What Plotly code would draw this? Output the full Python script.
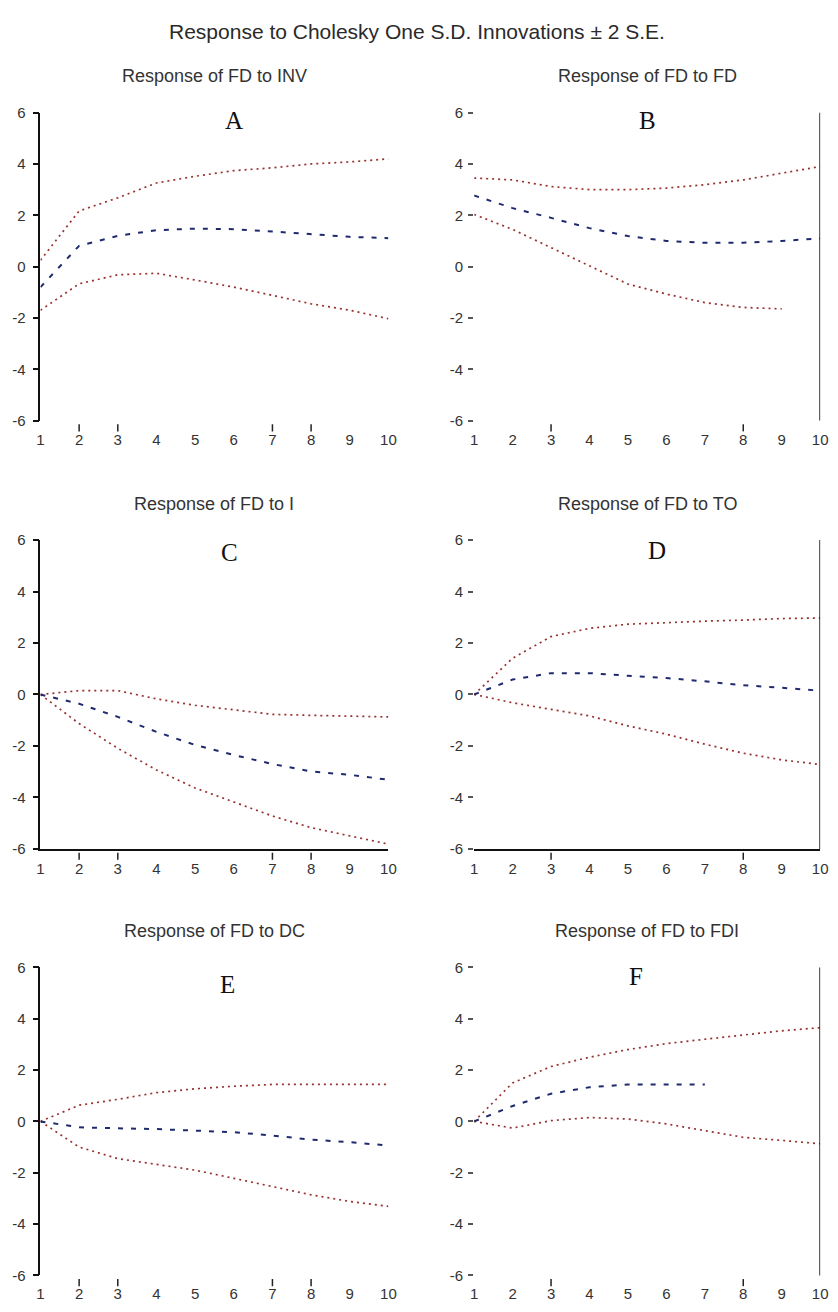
import plotly.graph_objects as go

# Forecast horizon (periods)
periods = list(range(1, 11))

# Panel A: Response of FD to INV
inv_resp = [-0.80, 0.81, 1.20, 1.42, 1.48, 1.46, 1.37, 1.26, 1.16, 1.11]
inv_upper = [0.25, 2.17, 2.68, 3.26, 3.52, 3.74, 3.85, 4.00, 4.08, 4.20]
inv_lower = [-1.70, -0.67, -0.32, -0.26, -0.52, -0.80, -1.12, -1.45, -1.70, -2.03]

# Panel B: Response of FD to FD
fd_resp = [2.77, 2.28, 1.90, 1.50, 1.19, 1.00, 0.93, 0.93, 1.00, 1.10]
fd_upper = [3.45, 3.38, 3.12, 3.00, 3.00, 3.06, 3.19, 3.38, 3.64, 3.90]
fd_lower = [2.03, 1.45, 0.74, 0.03, -0.68, -1.07, -1.40, -1.59, -1.65, None]

# Panel C: Response of FD to I
i_resp = [0.00, -0.36, -0.87, -1.45, -1.96, -2.35, -2.70, -2.99, -3.12, -3.31]
i_upper = [0.00, 0.15, 0.15, -0.17, -0.42, -0.59, -0.77, -0.81, -0.85, -0.87]
i_lower = [0.00, -1.13, -2.09, -2.93, -3.63, -4.18, -4.72, -5.17, -5.49, -5.81]

# Panel D: Response of FD to TO
to_resp = [0.00, 0.58, 0.83, 0.83, 0.73, 0.64, 0.51, 0.36, 0.26, 0.15]
to_upper = [0.00, 1.41, 2.25, 2.57, 2.73, 2.80, 2.85, 2.89, 2.95, 2.97]
to_lower = [0.00, -0.32, -0.58, -0.83, -1.22, -1.54, -1.93, -2.28, -2.54, -2.72]

# Panel E: Response of FD to DC
dc_resp = [0.00, -0.23, -0.27, -0.30, -0.36, -0.42, -0.55, -0.71, -0.81, -0.94]
dc_upper = [0.00, 0.63, 0.86, 1.12, 1.27, 1.37, 1.44, 1.44, 1.44, 1.44]
dc_lower = [0.00, -1.00, -1.45, -1.67, -1.90, -2.22, -2.54, -2.86, -3.12, -3.31]

# Panel F: Response of FD to FDI
fdi_resp = [0.00, 0.60, 1.08, 1.33, 1.44, 1.44, 1.44, None, None, None]
fdi_upper = [0.00, 1.50, 2.14, 2.50, 2.80, 3.03, 3.20, 3.36, 3.53, 3.65]
fdi_lower = [0.00, -0.26, 0.03, 0.15, 0.09, -0.10, -0.36, -0.62, -0.74, -0.87]

y_ticks = [6, 4, 2, 0, -2, -4, -6]

main_title = "Response to Cholesky One S.D. Innovations \u00b1 2 S.E."

panels = [
    dict(title="Response of FD to INV", letter="A", resp=inv_resp, up=inv_upper, lo=inv_lower,
         side="left", bottom=False, marks=[2, 3, 7, 8], lpos=(6.0, 5.7)),
    dict(title="Response of FD to FD", letter="B", resp=fd_resp, up=fd_upper, lo=fd_lower,
         side="right", bottom=False, marks=[3, 8], lpos=(5.5, 5.7)),
    dict(title="Response of FD to I", letter="C", resp=i_resp, up=i_upper, lo=i_lower,
         side="left", bottom=True, marks=[2, 3, 7, 8], lpos=(5.9, 5.5)),
    dict(title="Response of FD to TO", letter="D", resp=to_resp, up=to_upper, lo=to_lower,
         side="right", bottom=True, marks=[3, 8], lpos=(5.75, 5.6)),
    dict(title="Response of FD to DC", letter="E", resp=dc_resp, up=dc_upper, lo=dc_lower,
         side="left", bottom=False, marks=[2, 3, 7, 8], lpos=(5.85, 5.35)),
    dict(title="Response of FD to FDI", letter="F", resp=fdi_resp, up=fdi_upper, lo=fdi_lower,
         side="right", bottom=False, marks=[3, 8], lpos=(5.2, 5.65)),
]

W, H = 838, 1312
col_px = {"left": (37, 390), "right": (477, 828)}
row_px = [(105, 417), (538, 851), (971, 1283)]

RED = "#97302f"
BLUE = "#1f2a6e"
SANS = "Liberation Sans, Arial, sans-serif"
SERIF = "Liberation Serif, Times New Roman, serif"

fig = go.Figure()
layout = dict(
    width=W, height=H,
    margin=dict(l=0, r=0, t=0, b=0),
    paper_bgcolor="white", plot_bgcolor="white",
    showlegend=False,
    font=dict(family=SANS, color="#333333"),
)
annotations = [
    dict(text=main_title, xref="paper", yref="paper", x=0.5, y=1 - 23 / H,
         showarrow=False, font=dict(size=21, family=SANS, color="#2a2a2a"),
         xanchor="center", yanchor="middle"),
]
shapes = []

for i, p in enumerate(panels):
    k = i + 1
    xa = "x" if k == 1 else f"x{k}"
    ya = "y" if k == 1 else f"y{k}"
    row = i // 2
    x0px, x1px = col_px[p["side"]]
    top, bot = row_px[row]

    for series, color, dash, width in [
        (p["up"], RED, "2px,4px", 1.7),
        (p["lo"], RED, "2px,4px", 1.7),
        (p["resp"], BLUE, "5px,8px", 2.0),
    ]:
        fig.add_trace(go.Scatter(
            x=periods, y=series, mode="lines", xaxis=xa, yaxis=ya,
            line=dict(color=color, dash=dash, width=width),
            connectgaps=False, hoverinfo="skip",
        ))

    left = p["side"] == "left"
    layout[f"xaxis{k}"] = dict(
        domain=[x0px / W, x1px / W], anchor=ya, range=[1, 10],
        tickvals=periods, ticktext=[str(v) for v in periods],
        ticks="outside", ticklen=5, tickcolor="rgba(0,0,0,0)",
        showline=p["bottom"], linecolor="#111111", linewidth=1.6,
        showgrid=False, zeroline=False, fixedrange=True,
        tickfont=dict(size=15, family=SANS, color="#333333"),
    )
    layout[f"yaxis{k}"] = dict(
        domain=[1 - bot / H, 1 - top / H], anchor=xa, range=[-6, 6],
        tickvals=y_ticks, ticktext=[str(v) for v in y_ticks],
        ticks="outside", ticklen=6 if left else 5,
        tickcolor="#111111" if left else "#555555", tickwidth=1.5,
        ticklabelstandoff=4 if left else 2,
        showline=left, linecolor="#111111", linewidth=1.6,
        showgrid=False, zeroline=False, fixedrange=True,
        tickfont=dict(size=15, family=SANS, color="#333333"),
    )

    # panel heading above the plot area
    annotations.append(dict(
        text=p["title"], xref=f"{xa} domain", yref="paper", x=0.5, y=1 - (top - 37) / H,
        showarrow=False, font=dict(size=18, family=SANS, color="#333333"),
        xanchor="center", yanchor="middle",
    ))
    # panel letter
    annotations.append(dict(
        text=p["letter"], xref=xa, yref=ya, x=p["lpos"][0], y=p["lpos"][1],
        showarrow=False, font=dict(size=25, family=SERIF, color="#111111"),
        xanchor="center", yanchor="middle",
    ))

    # right-hand frame line on the right column
    if not left:
        shapes.append(dict(type="line", xref=xa, yref=f"{ya} domain",
                           x0=10, x1=10, y0=0, y1=1,
                           line=dict(color="#111111", width=1.6)))
    # short tick marks under selected periods
    for m in p["marks"]:
        shapes.append(dict(type="line", xref=xa, yref=f"{ya} domain",
                           x0=m, x1=m, y0=-0.012, y1=-0.035,
                           line=dict(color="#222222", width=1.5)))

layout["annotations"] = annotations
layout["shapes"] = shapes
fig.update_layout(**layout)
fig.write_html("out.html")
